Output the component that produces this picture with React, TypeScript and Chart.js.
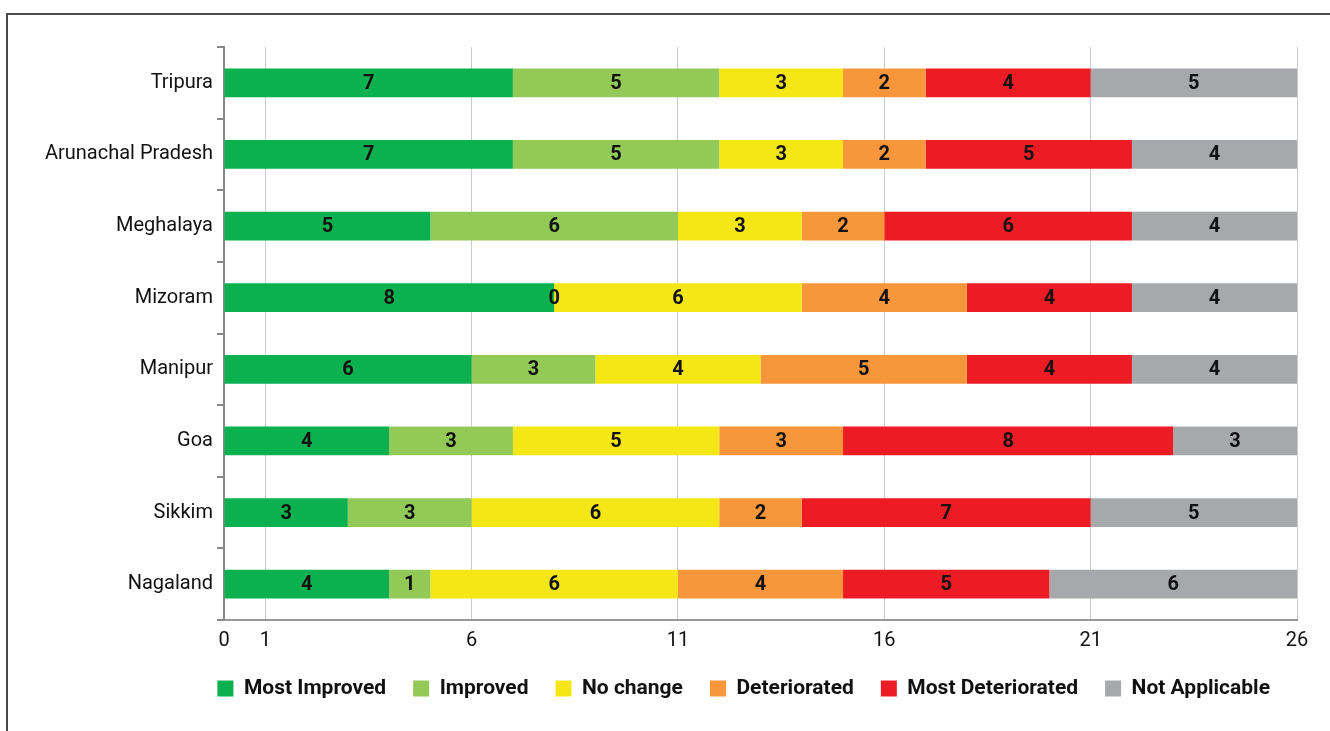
import React, { useEffect, useRef } from "react";
import { Chart, registerables } from "chart.js";

Chart.register(...registerables);

const states = ["Tripura", "Arunachal Pradesh", "Meghalaya", "Mizoram", "Manipur", "Goa", "Sikkim", "Nagaland"];
const mostImproved = [7, 7, 5, 8, 6, 4, 3, 4];
const improved = [5, 5, 6, 0, 3, 3, 3, 1];
const noChange = [3, 3, 3, 6, 4, 5, 6, 6];
const deteriorated = [2, 2, 2, 4, 5, 3, 2, 4];
const mostDeteriorated = [4, 5, 6, 4, 4, 8, 7, 5];
const notApplicable = [5, 4, 4, 4, 4, 3, 5, 6];
const xTickValues = [0, 1, 6, 11, 16, 21, 26];

const seriesNames = ["Most Improved", "Improved", "No change", "Deteriorated", "Most Deteriorated", "Not Applicable"];
const seriesColors = ["#0BB14E", "#92C957", "#F5E716", "#F7963A", "#ED1C24", "#A7A8AB"];
const seriesData = [mostImproved, improved, noChange, deteriorated, mostDeteriorated, notApplicable];

const FONT = "Roboto, 'Noto Sans', sans-serif";

const labelPlugin = {
  id: "segLabels",
  afterDatasetsDraw(chart: any) {
    const ctx = chart.ctx;
    ctx.save();
    ctx.font = `bold 20px ${FONT}`;
    ctx.fillStyle = "#111";
    ctx.textAlign = "center";
    ctx.textBaseline = "middle";
    chart.data.datasets.forEach((ds: any, i: number) => {
      const meta = chart.getDatasetMeta(i);
      meta.data.forEach((el: any, j: number) => {
        const v = ds.data[j];
        const x = (el.x + el.base) / 2;
        ctx.fillText(String(v), x, el.y + 1);
      });
    });
    ctx.restore();
  },
};

export default function App() {
  const ref = useRef<HTMLCanvasElement>(null);
  useEffect(() => {
    if (!ref.current) return;
    const chart = new Chart(ref.current, {
      type: "bar",
      data: {
        labels: states,
        datasets: seriesNames.map((name, i) => ({
          label: name,
          data: seriesData[i],
          backgroundColor: seriesColors[i],
          borderWidth: 0,
          barPercentage: 0.4,
          categoryPercentage: 1,
        })),
      },
      options: {
        indexAxis: "y",
        animation: false,
        responsive: false,
        maintainAspectRatio: false,
        layout: { padding: { left: 0, right: 33, top: 47, bottom: 22 } },
        plugins: {
          legend: {
            position: "bottom",
            align: "end",
            labels: {
              boxWidth: 16,
              boxHeight: 16,
              padding: 27,
              color: "#111",
              font: { family: FONT, size: 21, weight: "bold" },
            },
          },
          tooltip: { enabled: false },
        },
        scales: {
          x: {
            stacked: true,
            min: 0,
            max: 26,
            afterBuildTicks: (axis: any) => {
              axis.ticks = xTickValues.map((v) => ({ value: v }));
            },
            afterFit: (scale: any) => {
              scale.height = 31;
            },
            ticks: {
              autoSkip: false,
              maxRotation: 0,
              padding: 9,
              color: "#111",
              font: { family: FONT, size: 20 },
            },
            grid: {
              drawTicks: false,
              color: (c: any) => (c.tick && c.tick.value === 0 ? "rgba(0,0,0,0)" : "#cccccc"),
              lineWidth: 1,
            },
            border: { display: true, color: "#999", width: 2 },
          },
          y: {
            stacked: true,
            afterFit: (scale: any) => {
              scale.width = 224;
            },
            ticks: {
              padding: 4,
              color: "#111",
              font: { family: FONT, size: 20 },
            },
            grid: {
              drawOnChartArea: false,
              drawTicks: true,
              tickLength: 7,
              color: "#888",
              lineWidth: 2,
            },
            border: { display: true, color: "#888", width: 2 },
          },
        },
      },
      plugins: [labelPlugin],
    } as any);
    return () => chart.destroy();
  }, []);
  return (
    <div style={{ position: "relative", width: 1330, height: 731, overflow: "hidden" }}>
      <style>{`body{margin:0}`}</style>
      <div
        style={{
          position: "absolute",
          left: 6,
          top: 13,
          width: 1400,
          height: 800,
          borderLeft: "2px solid #4a4a4a",
          borderTop: "2px solid #4a4a4a",
        }}
      />
      <canvas ref={ref} width={1330} height={731} style={{ position: "absolute", left: 0, top: 0 }} />
    </div>
  );
}
